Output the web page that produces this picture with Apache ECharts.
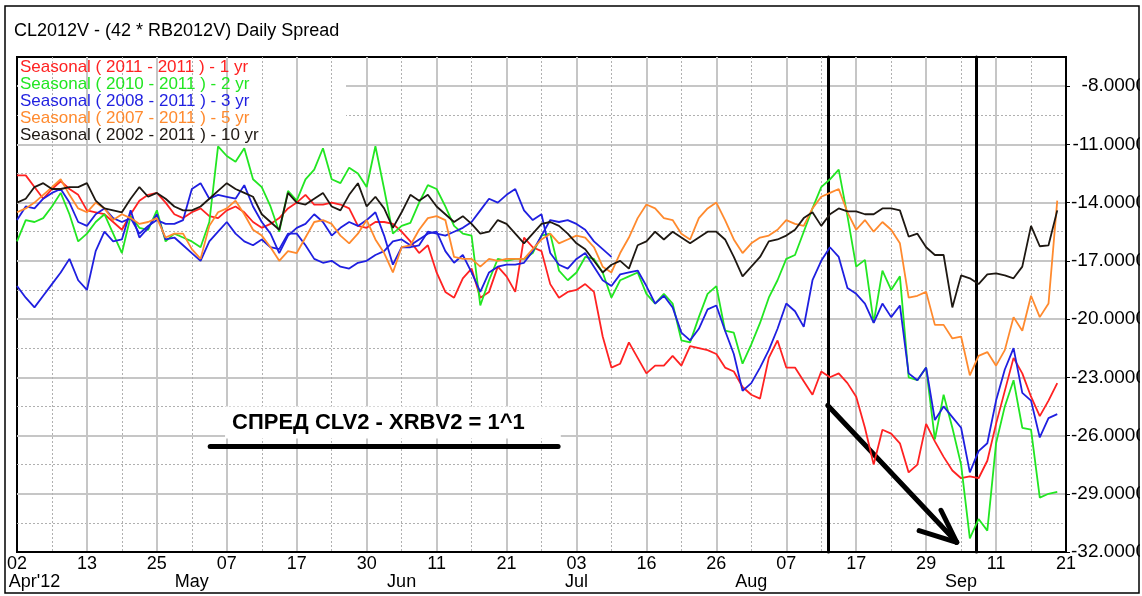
<!DOCTYPE html>
<html><head><meta charset="utf-8">
<script src="https://cdn.jsdelivr.net/npm/echarts@6/dist/echarts.min.js"></script>
<style>html,body{margin:0;padding:0;background:#fff}#c{width:1142px;height:596px}</style>
</head><body><div id="c"></div>
<script>
// ---- categories: trading days Apr 2 .. Sep 21, 2012 ----
const tradingDays = [
 '04-02','04-03','04-04','04-05','04-09','04-10','04-11','04-12','04-13','04-16','04-17','04-18','04-19','04-20','04-23','04-24','04-25','04-26','04-27','04-30',
 '05-01','05-02','05-03','05-04','05-07','05-08','05-09','05-10','05-11','05-14','05-15','05-16','05-17','05-18','05-21','05-22','05-23','05-24','05-25','05-29','05-30','05-31',
 '06-01','06-04','06-05','06-06','06-07','06-08','06-11','06-12','06-13','06-14','06-15','06-18','06-19','06-20','06-21','06-22','06-25','06-26','06-27','06-28','06-29',
 '07-02','07-03','07-05','07-06','07-09','07-10','07-11','07-12','07-13','07-16','07-17','07-18','07-19','07-20','07-23','07-24','07-25','07-26','07-27','07-30','07-31',
 '08-01','08-02','08-03','08-06','08-07','08-08','08-09','08-10','08-13','08-14','08-15','08-16','08-17','08-20','08-21','08-22','08-23','08-24','08-27','08-28','08-29','08-30','08-31',
 '09-04','09-05','09-06','09-07','09-10','09-11','09-12','09-13','09-14','09-17','09-18','09-19','09-20','09-21'
];
const dayTicks = ['02','13','25','07','17','30','11','21','03','16','26','07','17','29','11','21'];
const monthTicks = {2:"Apr'12", 20:'May', 44:'Jun', 64:'Jul', 84:'Aug', 108:'Sep'};

// ---- series values (one per trading day) ----
const red1yr = [
 -12.6,-12.6,-13.2,-13.8,-13.3,-12.9,-13.3,-13.6,-14.4,-14.5,
 -14.6,-15.0,-15.4,-14.6,-13.9,-13.6,-13.5,-14.0,-14.6,-14.8,
 -14.5,-14.3,-14.7,-14.8,-14.4,-14.2,-14.5,-15.0,-15.3,-15.1,
 -14.8,-14.3,-14.0,-13.6,-14.1,-14.1,-14.0,-14.1,-14.3,-15.2,
 -15.3,-15.0,-15.0,-15.1,-15.5,-16.0,-16.6,-16.2,-17.6,-18.6,
 -18.9,-17.9,-17.4,-18.9,-18.6,-17.3,-17.8,-18.6,-15.8,-16.3,
 -16.5,-18.2,-18.9,-18.6,-18.5,-18.2,-18.6,-20.9,-22.5,-22.3,
 -21.2,-22.0,-22.8,-22.4,-22.4,-21.9,-22.4,-21.4,-21.5,-21.6,
 -21.8,-22.5,-22.7,-23.5,-23.9,-24.1,-22.0,-21.1,-22.5,-22.5,
 -23.2,-23.9,-22.7,-23.0,-22.8,-23.3,-24.0,-25.6,-27.5,-25.7,
 -25.9,-26.4,-27.9,-27.5,-25.4,-26.3,-27.1,-27.8,-28.2,-28.1,
 -28.2,-27.3,-25.4,-23.7,-22.0,-22.8,-24.0,-25.0,-24.2,-23.3
];
const green2yr = [
 -16.0,-14.9,-15.0,-14.8,-14.2,-13.5,-14.6,-16.0,-15.6,-15.0,
 -14.6,-15.6,-16.6,-14.7,-15.3,-15.4,-14.4,-16.0,-15.6,-15.8,
 -16.0,-16.3,-15.0,-11.1,-11.6,-11.9,-11.2,-12.8,-13.2,-14.2,
 -15.5,-13.4,-13.9,-12.8,-12.3,-11.2,-12.8,-13.0,-12.2,-12.5,
 -13.2,-11.1,-13.3,-15.6,-15.2,-15.05,-14.0,-13.1,-13.3,-14.2,
 -15.2,-15.6,-15.7,-19.3,-18.0,-16.9,-17.0,-16.9,-16.9,-16.6,
 -15.7,-15.6,-17.5,-18.0,-17.6,-16.8,-16.9,-17.6,-18.9,-18.0,
 -17.8,-17.6,-18.7,-19.2,-18.7,-19.2,-21.1,-21.2,-19.9,-18.7,
 -18.3,-20.6,-20.7,-22.3,-21.3,-20.2,-18.9,-18.0,-16.9,-16.7,
 -15.5,-14.3,-13.2,-12.8,-12.3,-14.7,-17.3,-16.95,-20.2,-17.5,
 -18.5,-17.8,-23.0,-23.15,-22.5,-26.2,-23.9,-25.6,-27.5,-31.3,
 -30.3,-30.9,-26.4,-24.5,-23.15,-25.6,-25.7,-29.2,-29.0,-28.9
];
const blue3yr = [
 -14.9,-14.2,-14.3,-13.8,-13.5,-13.3,-14.0,-15.0,-15.2,-14.6,
 -14.3,-14.8,-15.0,-14.8,-15.6,-15.2,-14.9,-15.1,-15.1,-14.9,
 -13.3,-13.0,-13.8,-13.6,-13.7,-13.8,-13.1,-14.2,-15.0,-15.6,
 -16.6,-15.7,-15.3,-15.1,-14.6,-15.0,-15.7,-15.3,-15.0,-15.2,
 -14.9,-14.5,-15.7,-17.2,-16.3,-16.3,-16.2,-15.5,-15.6,-15.7,
 -15.5,-15.3,-15.0,-14.4,-13.8,-14.0,-13.6,-13.3,-14.4,-14.9,
 -14.6,-16.6,-17.2,-17.4,-16.9,-16.6,-17.3,-18.0,-18.3,-17.7,
 -17.6,-17.5,-18.3,-19.2,-18.8,-19.4,-20.7,-21.1,-20.5,-19.5,
 -19.3,-20.6,-21.8,-23.7,-23.3,-22.5,-21.6,-20.5,-19.2,-19.6,
 -20.4,-18.0,-17.0,-16.3,-16.8,-18.4,-18.7,-19.2,-20.2,-19.2,
 -19.9,-19.3,-22.8,-23.15,-22.5,-25.2,-24.5,-25.05,-25.6,-27.9,
 -26.8,-26.4,-24.2,-22.6,-21.5,-23.8,-24.2,-26.1,-25.1,-24.9
];
const blueShort = [
 -18.3,-18.9,-19.4,-18.8,-18.2,-17.6,-16.9,-18.0,-18.5,-16.5,
 -15.5,-16.0,-15.9,-14.4,-15.8,-15.3,-14.6,-15.9,-15.8,-16.2,
 -16.6,-17.0,-16.0,-15.5,-15.0,-15.6,-16.0,-16.2,-15.9,-16.3,
 -16.4,-15.6,-15.6,-16.2,-16.9,-17.1,-17.0,-17.3,-17.4,-17.1,
 -17.0,-16.7,-16.5,-16.0,-15.9,-16.2,-15.9,-15.6,-15.5,-16.5,
 -17.1,-16.7,-17.6,-18.6,-17.6,-17.3,-17.2,-17.2,-17.1,-16.5,
 -15.7,-14.9,-15.0,-14.9,-15.1,-15.4,-16.0,-16.4,-16.8
];
const orange5yr = [
 -14.5,-14.3,-14.0,-13.6,-13.2,-12.8,-13.6,-14.3,-14.5,-14.0,
 -14.3,-14.9,-14.6,-14.8,-15.1,-15.0,-14.8,-15.8,-15.6,-15.6,
 -16.4,-16.9,-15.2,-14.5,-14.3,-13.9,-14.6,-15.4,-15.7,-16.3,
 -17.0,-16.5,-16.6,-15.8,-15.0,-14.9,-15.1,-15.7,-16.1,-15.6,
 -14.9,-15.9,-16.6,-17.6,-16.3,-16.2,-15.4,-14.8,-14.7,-14.9,
 -16.8,-16.9,-16.9,-17.3,-16.9,-17.0,-16.9,-16.9,-16.9,-16.4,
 -15.9,-15.6,-16.1,-15.9,-15.7,-15.8,-16.3,-17.3,-17.6,-16.6,
 -15.8,-14.8,-14.1,-14.3,-14.8,-14.9,-15.6,-15.9,-14.8,-14.3,
 -14.0,-14.9,-15.9,-16.6,-16.1,-15.8,-15.7,-15.4,-14.9,-15.1,
 -15.2,-14.3,-13.7,-13.5,-13.3,-14.5,-15.4,-14.9,-15.5,-15.0,
 -15.4,-16.1,-18.9,-18.8,-18.6,-20.3,-20.3,-21.0,-20.9,-22.9,
 -21.9,-21.7,-22.4,-21.6,-19.9,-20.6,-18.8,-19.9,-19.2,-13.9
];
const black10yr = [
 -14.0,-13.8,-13.2,-13.0,-13.3,-13.3,-13.2,-13.2,-13.0,-13.9,
 -14.3,-14.4,-14.5,-13.8,-13.2,-13.7,-13.5,-13.8,-14.2,-14.4,
 -14.4,-14.2,-13.8,-13.4,-13.0,-13.3,-13.5,-13.7,-14.6,-15.0,
 -15.4,-13.5,-14.0,-14.1,-13.8,-13.5,-14.2,-14.4,-13.6,-13.0,
 -14.2,-13.7,-14.3,-15.3,-14.5,-13.6,-13.9,-13.6,-14.2,-14.6,
 -15.0,-14.7,-15.1,-15.6,-15.5,-14.9,-15.1,-15.6,-16.1,-15.6,
 -15.1,-15.0,-15.2,-15.6,-16.1,-16.4,-17.0,-17.6,-17.2,-17.0,
 -17.4,-16.2,-16.0,-15.5,-15.9,-15.5,-15.8,-16.1,-15.8,-15.5,
 -15.5,-15.9,-16.8,-17.8,-17.3,-16.8,-16.0,-15.9,-15.7,-15.4,
 -14.8,-14.5,-15.2,-14.6,-14.3,-14.45,-14.45,-14.6,-14.6,-14.3,
 -14.3,-14.4,-15.75,-15.6,-16.3,-16.7,-16.7,-19.4,-17.75,-17.9,
 -18.2,-17.7,-17.65,-17.75,-17.9,-17.3,-15.2,-16.25,-16.2,-14.4
];

// ---- annotations (in data units: [trading-day index, value]) ----
const vLines = [92.75, 109.7];
const arrowShaft = [[92.75, -24.45], [107.5, -31.5]];
const arrowBarbs = [[[107.5, -31.5], [103.2, -30.9]], [[107.5, -31.5], [105.7, -29.85]]];
const underline = [[22.1, -26.57], [61.9, -26.57]];
const noteText = 'СПРЕД CLV2 - XRBV2 = 1^1';
const noteAt = [23.8, -25.33];

const FONT = '"Liberation Sans", Arial, sans-serif';
const seriesDefs = [
  {name: 'Seasonal ( 2011 - 2011 ) - 1 yr', data: red1yr, color: '#ff2222'},
  {name: 'Seasonal ( 2010 - 2011 ) - 2 yr', data: green2yr, color: '#22e622'},
  {name: 'Seasonal ( 2008 - 2011 ) - 3 yr', data: blue3yr, color: '#1f1fe0'},
  {name: 'Seasonal ( 2007 - 2011 ) - 5 yr', data: orange5yr, color: '#ff8a2e'},
  {name: 'Seasonal ( 2002 - 2011 ) - 10 yr', data: black10yr, color: '#1e1812'}
];
const pairs = arr => arr.map((v, i) => [i, v]);

const chart = echarts.init(document.getElementById('c'), null, {renderer: 'canvas', width: 1142, height: 596});

const lineSeries = seriesDefs.map(s => ({
  type: 'line', name: s.name, data: pairs(s.data), xAxisIndex: 0, yAxisIndex: 0,
  showSymbol: false, symbol: 'none', silent: true, z: 5,
  lineStyle: {color: s.color, width: 1.8}, itemStyle: {color: s.color}
}));
lineSeries.splice(3, 0, {
  type: 'line', name: 'Seasonal ( 2008 - 2011 ) - 3 yr (a)', data: pairs(blueShort), xAxisIndex: 0, yAxisIndex: 0,
  showSymbol: false, symbol: 'none', silent: true, z: 5,
  lineStyle: {color: '#1f1fe0', width: 1.8}, itemStyle: {color: '#1f1fe0'}
});

const thick = w => ({color: '#000', width: w, type: 'solid', cap: 'round'});
lineSeries.push({
  type: 'line', name: 'annotations', data: [], xAxisIndex: 0, yAxisIndex: 0, silent: true, z: 8,
  markLine: {
    silent: true, symbol: ['none', 'none'], animation: false, label: {show: false},
    emphasis: {disabled: true},
    data: [
      ...vLines.map(x => ({xAxis: x, lineStyle: thick(3)})),
      [{coord: arrowShaft[0], lineStyle: thick(5)}, {coord: arrowShaft[1]}],
      ...arrowBarbs.map(b => [{coord: b[0], lineStyle: thick(5)}, {coord: b[1]}]),
      [{coord: underline[0], lineStyle: thick(5)}, {coord: underline[1]}]
    ]
  }
});

const option = {
  animation: false,
  backgroundColor: '#fff',
  title: {
    text: 'CL2012V - (42 * RB2012V) Daily Spread', left: 14, top: 22, padding: 0, z: 9,
    textStyle: {fontFamily: FONT, fontSize: 18, fontWeight: 'normal', color: '#000'}
  },
  legend: {
    orient: 'vertical', left: 15, top: 59, padding: 0, itemGap: 0, itemWidth: 0, itemHeight: 0,
    icon: 'rect', selectedMode: false, z: 9,
    textStyle: {fontFamily: FONT, fontSize: 17, lineHeight: 17},
    data: seriesDefs.map(s => ({name: s.name, textStyle: {color: s.color}}))
  },
  grid: {left: 17, right: 76, top: 57, bottom: 44, show: true, borderColor: '#000', borderWidth: 2,
         backgroundColor: 'transparent', outerBoundsMode: 'none', containLabel: false},
  xAxis: [
    {type: 'value', min: 0, max: 120, interval: 8, position: 'bottom', z: 4,
     axisLine: {show: true, onZero: false, lineStyle: {color: '#000', width: 2}}, axisTick: {show: false},
     axisLabel: {show: true, margin: 3, color: '#000', fontFamily: FONT, fontSize: 18, hideOverlap: false,
                 formatter: v => dayTicks[Math.round(v / 8)] || ''},
     splitLine: {show: true, showMinLine: false, showMaxLine: false, lineStyle: {color: '#c6c6c6', width: 2}}},
    {type: 'value', min: 0, max: 120, interval: 4, position: 'bottom', z: 3,
     axisLine: {show: false, onZero: false}, axisTick: {show: false}, axisLabel: {show: false},
     splitLine: {show: true, showMinLine: false, showMaxLine: false, lineStyle: {color: '#b0b0b0', width: 1, type: [2, 2]}}},
    {type: 'category', data: tradingDays, boundaryGap: false, position: 'bottom', z: 3,
     axisLine: {show: false, onZero: false}, axisTick: {show: false}, splitLine: {show: false},
     axisLabel: {show: true, margin: 21, color: '#000', fontFamily: FONT, fontSize: 18, hideOverlap: false,
                 interval: (i) => Object.prototype.hasOwnProperty.call(monthTicks, i),
                 formatter: (val, i) => monthTicks[i] || ''}}
  ],
  yAxis: [
    {type: 'value', position: 'right', min: -32, max: -6.5, interval: 3, z: 1,
     axisLine: {show: true, onZero: false, lineStyle: {color: '#000', width: 2}},
     axisTick: {show: true, inside: false, length: 4, lineStyle: {color: '#000', width: 1}},
     axisLabel: {margin: 80, align: 'right', color: '#000', fontFamily: FONT, fontSize: 19, hideOverlap: false,
                 showMaxLabel: false,
                 formatter: v => Math.abs(v + 6.5) < 1e-6 ? '' : v.toFixed(4)},
     splitLine: {show: true, showMinLine: false, showMaxLine: false, lineStyle: {color: '#c6c6c6', width: 2}}},
    {type: 'value', position: 'right', min: -32, max: -6.5, interval: 1.5, z: 0,
     axisLine: {show: false, onZero: false}, axisTick: {show: false}, axisLabel: {show: false},
     splitLine: {show: true, showMinLine: false, showMaxLine: false, lineStyle: {color: '#b0b0b0', width: 1, type: [2, 2]}}}
  ],
  series: lineSeries
};
chart.setOption(option);

// annotation text + frames, positioned from data coordinates
const p = chart.convertToPixel({xAxisIndex: 0, yAxisIndex: 0}, noteAt);
chart.setOption({
  graphic: [
    {type: 'rect', z: 2, silent: true, shape: {x: 18, y: 59, width: 328, height: 83}, style: {fill: '#fff'}},
    {type: 'text', z: 20, silent: true, x: p[0], y: p[1],
     style: {text: noteText, fill: '#000', font: 'bold 22px "Liberation Sans", Arial, sans-serif',
             align: 'left', verticalAlign: 'middle', backgroundColor: '#fff', padding: [5, 36, 5, 7]}},
    {type: 'rect', z: 30, silent: true, shape: {x: 1140, y: 0, width: 4, height: 596}, style: {fill: '#fff'}},
    {type: 'rect', z: 31, silent: true, shape: {x: 5, y: 6, width: 1134, height: 587}, style: {fill: 'none', stroke: '#000', lineWidth: 1.5}}
  ]
});
</script>
</body></html>
